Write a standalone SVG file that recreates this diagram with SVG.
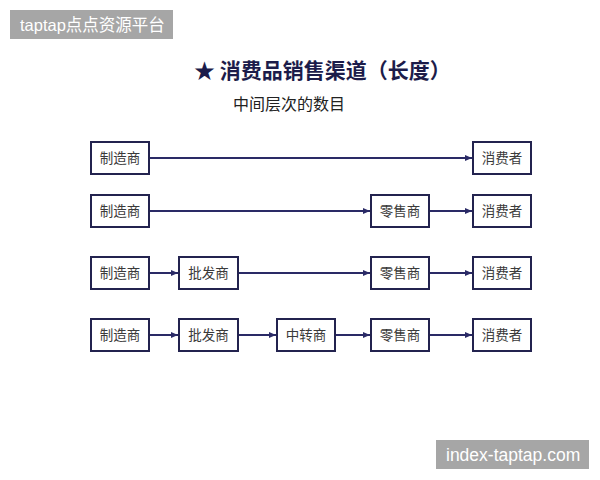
<svg xmlns="http://www.w3.org/2000/svg" width="600" height="480" viewBox="0 0 600 480">
<style>
.box{fill:#fff;stroke:#23234f;stroke-width:2}
.lbl{font-family:"Liberation Serif","Noto Sans CJK SC",serif;font-size:13.500px;fill:#3a3a3a;text-anchor:middle}
.ln{stroke:#2a2a66;stroke-width:2;fill:none;marker-end:url(#ah)}
.wm{fill:#a6a6a6}
.wmt{font-family:"Liberation Sans","Noto Sans CJK SC",sans-serif;fill:#fff}
</style>
<defs>
<marker id="ah" markerWidth="8" markerHeight="8" refX="7" refY="4" orient="auto" markerUnits="userSpaceOnUse">
<path d="M0,1 L7,4 L0,7 Z" fill="#2a2a66"/>
</marker>
</defs>
<rect width="600" height="480" fill="#fff"/>
<g id="wm1"><rect class="wm" x="10" y="10" width="163" height="29"/><text class="wmt" x="20" y="30.500" font-size="16.500">taptap点点资源平台</text></g>
<g id="wm2"><rect class="wm" x="436" y="440" width="153" height="29"/><text class="wmt" x="446" y="461" font-size="17.500">index-taptap.com</text></g>
<g id="title">
<text x="194" y="78" font-family="Noto Sans CJK SC,sans-serif" font-size="21" font-weight="bold" fill="#1c1c4a">★ 消费品销售渠道（长度）</text>
<text x="233" y="110" font-family="Noto Sans CJK SC,sans-serif" font-size="16" fill="#222">中间层次的数目</text>
</g>
<g id="connectors">
<line class="ln" x1="149" y1="158" x2="472" y2="158"/>
<line class="ln" x1="149" y1="211" x2="370" y2="211"/>
<line class="ln" x1="429" y1="211" x2="472" y2="211"/>
<line class="ln" x1="149" y1="273" x2="178" y2="273"/>
<line class="ln" x1="238" y1="273" x2="370" y2="273"/>
<line class="ln" x1="429" y1="273" x2="472" y2="273"/>
<line class="ln" x1="149" y1="335" x2="178" y2="335"/>
<line class="ln" x1="238" y1="335" x2="276" y2="335"/>
<line class="ln" x1="335" y1="335" x2="370" y2="335"/>
<line class="ln" x1="429" y1="335" x2="472" y2="335"/>
</g>
<g id="r1m"><rect class="box" x="91" y="142" width="58" height="32"/><text class="lbl" x="120" y="163">制造商</text></g>
<g id="r1c"><rect class="box" x="473" y="142" width="58" height="32"/><text class="lbl" x="502" y="163">消费者</text></g>
<g id="r2m"><rect class="box" x="91" y="195" width="58" height="32"/><text class="lbl" x="120" y="216">制造商</text></g>
<g id="r2r"><rect class="box" x="371" y="195" width="58" height="32"/><text class="lbl" x="400" y="216">零售商</text></g>
<g id="r2c"><rect class="box" x="473" y="195" width="58" height="32"/><text class="lbl" x="502" y="216">消费者</text></g>
<g id="r3m"><rect class="box" x="91" y="257" width="58" height="32"/><text class="lbl" x="120" y="278">制造商</text></g>
<g id="r3w"><rect class="box" x="179" y="257" width="59" height="32"/><text class="lbl" x="208.500" y="278">批发商</text></g>
<g id="r3r"><rect class="box" x="371" y="257" width="58" height="32"/><text class="lbl" x="400" y="278">零售商</text></g>
<g id="r3c"><rect class="box" x="473" y="257" width="58" height="32"/><text class="lbl" x="502" y="278">消费者</text></g>
<g id="r4m"><rect class="box" x="91" y="319" width="58" height="32"/><text class="lbl" x="120" y="340">制造商</text></g>
<g id="r4w"><rect class="box" x="179" y="319" width="59" height="32"/><text class="lbl" x="208.500" y="340">批发商</text></g>
<g id="r4t"><rect class="box" x="277" y="319" width="58" height="32"/><text class="lbl" x="306" y="340">中转商</text></g>
<g id="r4r"><rect class="box" x="371" y="319" width="58" height="32"/><text class="lbl" x="400" y="340">零售商</text></g>
<g id="r4c"><rect class="box" x="473" y="319" width="58" height="32"/><text class="lbl" x="502" y="340">消费者</text></g>
</svg>
